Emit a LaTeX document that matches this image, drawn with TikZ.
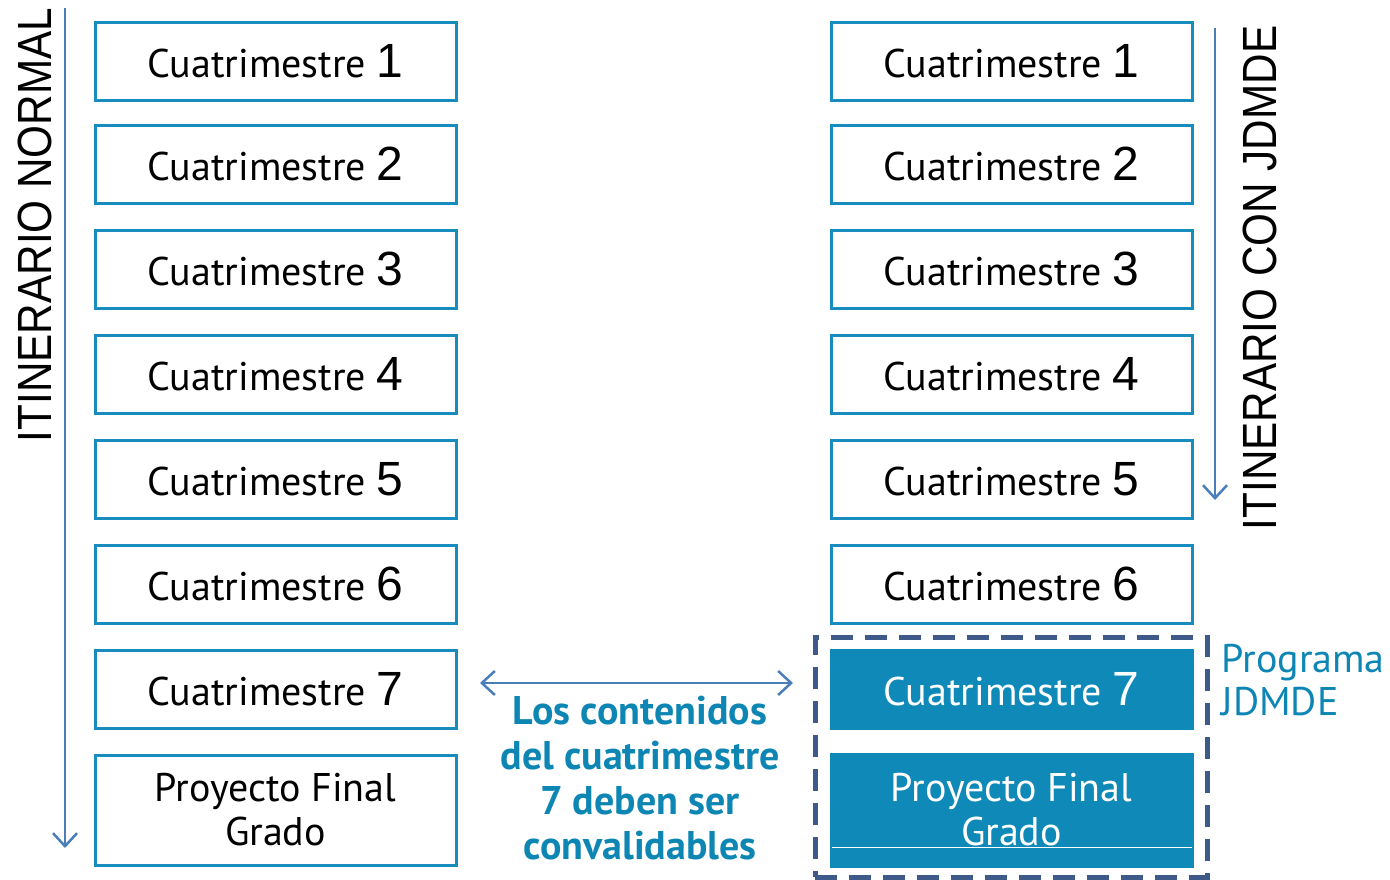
\documentclass[tikz,border=0pt]{standalone}
\usepackage{fontspec}
\setmainfont{PT Sans}
\newfontfamily\numfont{Liberation Sans}
\usepackage{tikz}
\usetikzlibrary{positioning,arrows.meta}
\definecolor{boxcolor}{RGB}{24,140,190}
\definecolor{fillcolor}{RGB}{14,137,184}
\definecolor{arrowcolor}{RGB}{74,126,187}
\definecolor{dashcolor}{RGB}{62,90,136}
\definecolor{notecolor}{RGB}{14,134,180}
\newcommand{\cuatri}[1]{Cuatrimestre {\numfont\fontsize{48}{50}\selectfont #1}}
\newcommand{\narrow}[1]{\scalebox{0.88}[1]{#1}}
\tikzset{
    semester/.style={rectangle, draw=boxcolor, line width=3pt, fill=white, minimum width=361pt, minimum height=78pt, inner sep=0pt, align=center, font=\fontsize{40}{44}\selectfont},
    final semester/.style={semester, minimum height=110pt},
    jdmde semester/.style={semester, draw=fillcolor, fill=fillcolor, text=white},
    jdmde final/.style={jdmde semester, minimum height=112pt},
    program frame/.style={rectangle, draw=dashcolor, line width=5pt, dash pattern=on 22pt off 12pt, minimum width=392pt, minimum height=240pt, inner sep=0pt},
    route label/.style={rotate=90, font=\numfont\fontsize{48}{50}\selectfont},
    flow arrow/.style={-{Straight Barb[length=13pt, width=24pt]}, line width=2.5pt, arrowcolor},
    both arrow/.style={{Straight Barb[length=13pt, width=24pt]}-{Straight Barb[length=13pt, width=24pt]}, line width=2.5pt, arrowcolor},
    note text/.style={align=center, text=notecolor, font=\bfseries\fontsize{40}{45}\selectfont},
    program text/.style={align=left, anchor=west, text=notecolor, font=\fontsize{40}{43}\selectfont}
}

\begin{document}
\begin{tikzpicture}[x=1pt, y=-1pt]
    \useasboundingbox (0,0) rectangle (1390,879);

    % Normal route (left column)
    \node[semester] (n1) at (275.5,61) {\cuatri{1}};
    \node[semester] (n2) at (275.5,164) {\cuatri{2}};
    \node[semester] (n3) at (275.5,269) {\cuatri{3}};
    \node[semester] (n4) at (275.5,374) {\cuatri{4}};
    \node[semester] (n5) at (275.5,479) {\cuatri{5}};
    \node[semester] (n6) at (275.5,584) {\cuatri{6}};
    \node[semester] (n7) at (275.5,689) {\cuatri{7}};
    \node[final semester] (npfg) at (275.5,810) {Proyecto Final\\Grado};

    % Route with JDMDE (right column)
    \node[semester] (j1) at (1011.5,61) {\cuatri{1}};
    \node[semester] (j2) at (1011.5,164) {\cuatri{2}};
    \node[semester] (j3) at (1011.5,269) {\cuatri{3}};
    \node[semester] (j4) at (1011.5,374) {\cuatri{4}};
    \node[semester] (j5) at (1011.5,479) {\cuatri{5}};
    \node[semester] (j6) at (1011.5,584) {\cuatri{6}};
    \node[jdmde semester] (j7) at (1011.5,689) {\cuatri{7}};
    \node[jdmde final] (jpfg) at (1011.5,810) {Proyecto Final\\Grado};
    \draw[white, line width=1pt] ([shift={(2pt,-37pt)}]jpfg.west) -- ([shift={(-2pt,-37pt)}]jpfg.east);

    % JDMDE programme frame
    \node[program frame] (frame) at (1011,757) {};
    \node[program text] (prog) at (1218,680) {Programa\\JDMDE};

    % Route arrows and labels
    \coordinate (ntop) at (65,8);
    \coordinate (nbot) at (65,848);
    \draw[flow arrow] (ntop) -- (nbot);
    \node[route label] (nlabel) at (35,225) {\narrow{ITINERARIO NORMAL}};

    \coordinate (jtop) at (1215,28);
    \coordinate (jbot) at (1215,500);
    \draw[flow arrow] (jtop) -- (jbot);
    \node[route label] (jlabel) at (1260,278) {\narrow{ITINERARIO CON JDMDE}};

    % Equivalence between both semester 7
    \coordinate (eqleft) at (480,683);
    \coordinate (eqright) at (793,683);
    \draw[both arrow] (eqleft) -- (eqright);
    \node[note text] (note) at (640,778) {Los contenidos\\del cuatrimestre\\7 deben ser\\convalidables};
\end{tikzpicture}
\end{document}
